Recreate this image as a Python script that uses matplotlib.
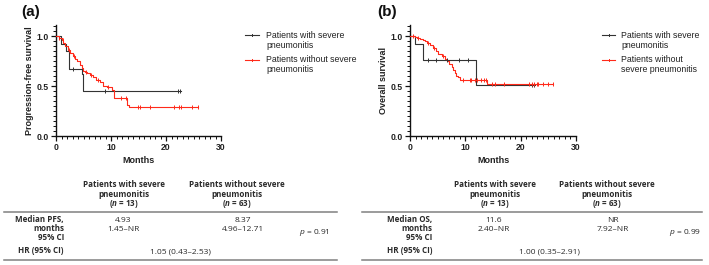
import numpy as np
import matplotlib
matplotlib.use("Agg")
import matplotlib.pyplot as plt
from matplotlib.ticker import MultipleLocator

W, H = 709, 265
FONT = ["Liberation Sans", "DejaVu Sans"]
TFONT = ["Open Sans", "DejaVu Sans"]
plt.rcParams['font.family'] = FONT
plt.rcParams['mathtext.fontset'] = 'custom'
plt.rcParams['mathtext.rm'] = 'Open Sans'
plt.rcParams['mathtext.it'] = 'Open Sans:italic'
plt.rcParams['mathtext.bf'] = 'Open Sans:bold'
plt.rcParams['mathtext.bfit'] = 'Open Sans:italic:bold'

# ---------------- data ----------------
# (a) PFS
pfs_sev_t = [0, 0.9, 1.9, 2.3, 4.7, 4.95]
pfs_sev_s = [1.0, 0.92, 0.85, 0.67, 0.62, 0.45]
pfs_sev_end = 22.7
pfs_sev_cens = [3.1, 8.9, 22.2, 22.6]

pfs_non_t = [0, 0.5, 1.0, 1.3, 1.6, 2.2, 2.6, 3.0, 3.4, 3.9, 4.3, 4.8, 4.95, 5.3, 5.7,
             6.1, 6.7, 7.3, 8.0, 8.6, 9.2, 10.1, 10.6, 12.9, 13.3]
pfs_non_s = [1.0, 0.98, 0.96, 0.93, 0.90, 0.86, 0.83, 0.80, 0.77, 0.75, 0.71, 0.68, 0.65,
             0.64, 0.63, 0.61, 0.59, 0.56, 0.54, 0.50, 0.49, 0.46, 0.38, 0.31, 0.29]
pfs_non_end = 25.8
pfs_non_cens = [0.6, 1.2, 2.4, 3.2, 5.5, 6.4, 7.6, 9.5, 11.9, 12.7, 14.9, 15.2, 17.0,
                21.5, 22.4, 22.7, 24.8, 25.8]

# (b) OS
os_sev_t = [0, 0.9, 2.4, 11.9]
os_sev_s = [1.0, 0.92, 0.76, 0.51]
os_sev_end = 22.6
os_sev_cens = [3.3, 4.7, 6.7, 8.9, 10.5, 22.0, 22.4]

os_non_t = [0, 0.9, 1.2, 1.8, 2.4, 2.7, 3.0, 3.6, 4.2, 4.7, 5.1, 5.7, 6.3, 6.7, 7.1, 7.5,
            7.8, 8.1, 8.4, 8.7, 9.0, 13.9]
os_non_s = [1.0, 0.99, 0.98, 0.97, 0.96, 0.95, 0.93, 0.91, 0.88, 0.85, 0.82, 0.80, 0.77,
            0.75, 0.72, 0.69, 0.66, 0.63, 0.60, 0.59, 0.565, 0.52]
os_non_end = 25.9
os_non_cens = [0.5, 1.5, 3.3, 4.4, 6.0, 9.6, 10.8, 11.1, 11.7, 12.1, 12.9, 13.3, 13.7,
               14.9, 15.3, 17.0, 21.5, 22.0, 22.4, 22.9, 23.1, 24.0, 25.0, 25.9]

xticks = [0, 10, 20, 30]
yticks = [0.0, 0.5, 1.0]
ylabels = ["Progression-free survival", "Overall survival"]
legend_a = [["Patients with severe", "pneumonitis"], ["Patients without severe", "pneumonitis"]]
legend_b = [["Patients with severe", "pneumonitis"], ["Patients without", "severe pneumonitis"]]

col_headers = [["Patients with severe", "pneumonitis", "($\\mathbfit{n}$ = 13)"],
               ["Patients without severe", "pneumonitis", "($\\mathbfit{n}$ = 63)"]]
tab_a_label = ["Median PFS,", "months", "95% CI"]
tab_a_vals = [["4.93", "1.45–NR"], ["8.37", "4.96–12.71"]]
tab_a_p = "$\\it{p}$ = 0.91"
tab_a_hr = ["HR (95% CI)", "1.05 (0.43–2.53)"]
tab_b_label = ["Median OS,", "months", "95% CI"]
tab_b_vals = [["11.6", "2.40–NR"], ["NR", "7.92–NR"]]
tab_b_p = "$\\it{p}$ = 0.99"
tab_b_hr = ["HR (95% CI)", "1.00 (0.35–2.91)"]

BLACK = "#333333"
RED = "#ff2a1a"

fig = plt.figure(figsize=(W / 100, H / 100), dpi=100)


def fx(x):
    return x / W


def fy(y):
    return 1 - y / H


def km(ax, t, s, end, cens, color):
    tt = list(t) + [end]
    ss = list(s) + [s[-1]]
    ax.step(tt, ss, where="post", color=color, lw=0.8, clip_on=False, zorder=3)
    t_arr = np.array(t)
    idx = np.searchsorted(t_arr, np.array(cens), side="right") - 1
    cs = np.array(s)[idx]
    ax.plot(cens, cs, ls="none", marker="|", ms=2.5, mew=0.7, color=color, zorder=4,
            clip_on=False)


def make_axes(left_px, right_px, ylabel, curves, legend_labels, leg_x, leg_text_x, leg_ys, label, label_x):
    top_px, bot_px = 25, 136
    ax = fig.add_axes([fx(left_px), fy(bot_px), fx(right_px) - fx(left_px), fy(top_px) - fy(bot_px)])
    for c in curves:
        km(ax, *c)
    ax.set_xlim(0, 30)
    ax.set_ylim(0, 1.11)
    ax.spines['top'].set_visible(False)
    ax.spines['right'].set_visible(False)
    for sp in ("left", "bottom"):
        ax.spines[sp].set_linewidth(1.0)
        ax.spines[sp].set_color("#111111")
    ax.set_xticks(xticks)
    ax.set_yticks(yticks)
    ax.set_yticklabels([f"{v:.1f}" for v in yticks])
    ax.xaxis.set_minor_locator(MultipleLocator(1))
    ax.yaxis.set_minor_locator(MultipleLocator(0.05))
    ax.tick_params(which="major", direction="out", length=3.5, width=0.9, labelsize=6.2, pad=1.5,
                   color="#111111")
    ax.tick_params(which="minor", direction="out", length=2, width=0.7, color="#111111")
    for lab in ax.get_xticklabels() + ax.get_yticklabels():
        lab.set_fontweight("bold")
        lab.set_color("#222222")
    ax.set_xlabel("Months", fontsize=6.5, fontweight="bold", labelpad=3, color="#222222")
    ax.set_ylabel(ylabel, fontsize=6.5, fontweight="bold", labelpad=2, color="#222222")
    colors = [BLACK, RED]
    for (lines, col, ly) in zip(legend_labels, colors, leg_ys):
        fig.add_artist(plt.Line2D([fx(leg_x[0]), fx(leg_x[1])], [fy(ly), fy(ly)], color=col, lw=0.8))
        fig.add_artist(plt.Line2D([fx((leg_x[0] + leg_x[1]) / 2)] * 2, [fy(ly - 1.2), fy(ly + 1.2)],
                                  color=col, lw=0.7))
        for k, ln in enumerate(lines):
            fig.text(fx(leg_text_x), fy(ly + 10 * k), ln, fontsize=6.3, va="center", ha="left",
                     color="#222222")
    fig.text(fx(label_x), fy(12), label, fontsize=11, fontweight="bold", va="center", ha="left",
             color="#111111")
    return ax


make_axes(56, 221, ylabels[0],
          [(pfs_sev_t, pfs_sev_s, pfs_sev_end, pfs_sev_cens, BLACK),
           (pfs_non_t, pfs_non_s, pfs_non_end, pfs_non_cens, RED)],
          legend_a, (245, 259), 266, (35, 60), "(a)", 21)
make_axes(410, 576, ylabels[1],
          [(os_sev_t, os_sev_s, os_sev_end, os_sev_cens, BLACK),
           (os_non_t, os_non_s, os_non_end, os_non_cens, RED)],
          legend_b, (602, 615), 621, (35, 60), "(b)", 377)


def t(x, y, s, ha="center", bold=False):
    fig.text(fx(x), fy(y + 2.3), s, fontsize=5.75 if bold else 6.0, ha=ha, va="baseline",
             color="#2a2a2a", fontweight="bold" if bold else "normal", family=TFONT)


def table(x0, x1, head_x, val_x, row_label_x, p_x, hr_x, labels, vals, pval, hr):
    head_y = [185, 194.5, 204]
    row_y = [220, 229, 238]
    for cx, hd in zip(head_x, col_headers):
        for yy, ln in zip(head_y, hd):
            t(cx, yy, ln, bold=True)
    fig.add_artist(plt.Line2D([fx(x0), fx(x1)], [fy(211.5), fy(211.5)], color="#808080", lw=1.1))
    for yy, ln in zip(row_y, labels):
        t(row_label_x, yy, ln, ha="right", bold=True)
    for cx, vv in zip(val_x, vals):
        for yy, ln in zip(row_y, vv):
            t(cx, yy, ln)
    t(p_x, 232, pval, ha="left")
    t(row_label_x, 251, hr[0], ha="right", bold=True)
    t(hr_x, 251, hr[1])
    fig.add_artist(plt.Line2D([fx(x0), fx(x1)], [fy(260), fy(260)], color="#808080", lw=1.1))


table(4, 337, (124, 237), (123, 243), 64, 299, 180, tab_a_label, tab_a_vals, tab_a_p, tab_a_hr)
table(362, 702, (495, 607), (494, 613), 432, 669, 549, tab_b_label, tab_b_vals, tab_b_p, tab_b_hr)

fig.savefig("out.png", dpi=100)
